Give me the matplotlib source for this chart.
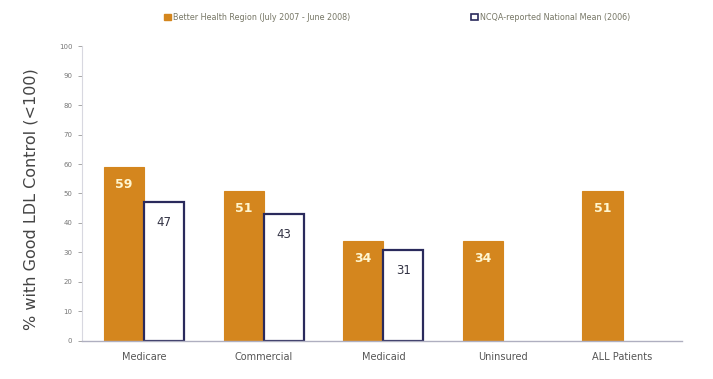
import matplotlib
matplotlib.use("Agg")
import matplotlib.pyplot as plt
import numpy as np
from matplotlib.patches import Patch

categories = ["Medicare", "Commercial", "Medicaid", "Uninsured", "ALL Patients"]
region_vals = [59, 51, 34, 34, 51]
national_vals = [47, 43, 31, np.nan, np.nan]
region_label = "Better Health Region (July 2007 - June 2008)"
national_label = "NCQA-reported National Mean (2006)"
ylabel = "% with Good LDL Control (<100)"
yticks = list(range(0, 101, 10))

orange = "#D4861E"
navy = "#2A2A5C"

fig = plt.figure(figsize=(7.13, 3.79), dpi=100)
ax = fig.add_axes([0.115, 0.1003, 0.842, 0.7783])

x = np.arange(len(categories))
w = 0.335
ax.bar(x - w / 2, region_vals, width=w, color=orange, edgecolor=orange, linewidth=0.8)
ax.bar(x + w / 2, national_vals, width=w, color="white", edgecolor=navy, linewidth=1.6)

for xi, v in zip(x - w / 2, region_vals):
    ax.text(xi, v - 6, f"{v}", ha="center", va="center", color="#FFF6D0",
            fontsize=9, fontweight="bold")
for xi, v in zip(x + w / 2, national_vals):
    if not np.isnan(v):
        ax.text(xi, v - 7, f"{int(v)}", ha="center", va="center", color="#333344",
                fontsize=8.5)

ax.set_xlim(-0.52, 4.5)
ax.set_ylim(0, 100)
ax.set_yticks(yticks)
ax.tick_params(axis="y", labelsize=5, colors="#999999", length=3, width=0.6, pad=4)
ax.tick_params(axis="y", labelcolor="#777777")
ax.set_xticks(x)
ax.set_xticklabels(categories, fontsize=7, color="#555555")
ax.tick_params(axis="x", length=0, pad=8)
for s in ["top", "right"]:
    ax.spines[s].set_visible(False)
ax.spines["left"].set_color("#D8D8E0")
ax.spines["bottom"].set_color("#AFAFC0")
ax.spines["left"].set_linewidth(0.8)
ax.spines["bottom"].set_linewidth(1.0)
ax.set_ylabel(ylabel, fontsize=11.5, color="#444444", va="center")
ax.yaxis.set_label_coords(-0.085, 0.48)

handles = [Patch(facecolor=orange, edgecolor=orange, label=region_label),
           Patch(facecolor="white", edgecolor=navy, linewidth=1.2, label=national_label)]
fig.legend(handles=handles, loc="upper center", bbox_to_anchor=(0.557, 0.985), ncol=2,
           frameon=False, fontsize=5.8, handlelength=0.8, handleheight=0.8,
           handletextpad=0.3, columnspacing=15, labelcolor="#777766")

fig.savefig("out.png", dpi=100)
